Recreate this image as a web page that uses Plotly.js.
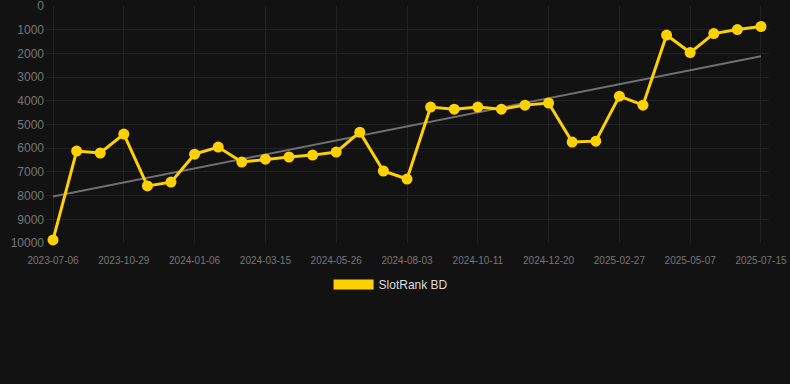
<!DOCTYPE html>
<html>
<head>
<meta charset="utf-8">
<script src="https://cdn.plot.ly/plotly-3.0.1.min.js"></script>
<style>html,body{margin:0;padding:0;background:#121212;}#chart{width:790px;height:384px;}</style>
</head>
<body>
<div id="chart"></div>
<script>
const dates = [
  "2023-07-06","2023-08-14","2023-09-21","2023-10-29","2023-11-21","2023-12-14",
  "2024-01-06","2024-01-29","2024-02-21","2024-03-15","2024-04-08","2024-05-02",
  "2024-05-26","2024-06-18","2024-07-11","2024-08-03","2024-08-26","2024-09-18",
  "2024-10-11","2024-11-03","2024-11-27","2024-12-20","2025-01-12","2025-02-04",
  "2025-02-27","2025-03-22","2025-04-14","2025-05-07","2025-05-30","2025-06-22",
  "2025-07-15"
];
const ranks = [
  9870, 6120, 6200, 5400, 7590, 7430,
  6250, 5950, 6580, 6460, 6370, 6290,
  6160, 5320, 6960, 7300, 4260, 4350,
  4260, 4350, 4180, 4090, 5740, 5700,
  3800, 4180, 1220, 1960, 1160, 990,
  860
];
const tickLabels = ["2023-07-06","2023-10-29","2024-01-06","2024-03-15","2024-05-26","2024-08-03","2024-10-11","2024-12-20","2025-02-27","2025-05-07","2025-07-15"];
const yTicks = [0,1000,2000,3000,4000,5000,6000,7000,8000,9000,10000];
const yTickText = ["0","1000","2000","3000","4000","5000","6000","7000","8000","9000","10000"];
const seriesName = "SlotRank BD";

// linear regression trend
const n = ranks.length;
const idx = ranks.map((_, i) => i);
const mx = idx.reduce((a, b) => a + b, 0) / n;
const my = ranks.reduce((a, b) => a + b, 0) / n;
let sxy = 0, sxx = 0;
for (let i = 0; i < n; i++) { sxy += (i - mx) * (ranks[i] - my); sxx += (i - mx) * (i - mx); }
const slope = sxy / sxx;
const icpt = my - slope * mx;
const trend = idx.map(i => icpt + slope * i);

const yellow = "#FFD100";
const traces = [
  {
    x: dates, y: trend, type: "scatter", mode: "lines",
    line: {color: "#707070", width: 2}, showlegend: false, hoverinfo: "skip"
  },
  {
    x: dates, y: ranks, type: "scatter", mode: "lines+markers", name: seriesName,
    line: {color: yellow, width: 3}, marker: {color: yellow, size: 11},
    showlegend: false, cliponaxis: false
  },
  {
    x: [null], y: [null], type: "scatter", mode: "lines", name: seriesName,
    line: {color: yellow, width: 11}, showlegend: true
  }
];
const layout = {
  width: 790, height: 384,
  paper_bgcolor: "#121212", plot_bgcolor: "#121212",
  margin: {l: 45, r: 21, t: 6, b: 141, autoexpand: false},
  font: {family: "Liberation Sans, Arial, sans-serif", color: "#777"},
  xaxis: {
    type: "category", range: [-0.34, 30.34],
    tickmode: "array", tickvals: tickLabels, ticktext: tickLabels,
    tickfont: {size: 10, color: "#777"}, ticklabelstandoff: 10,
    gridcolor: "#222", gridwidth: 1, showline: false, zeroline: false,
    ticks: "", ticklen: 0, automargin: false
  },
  yaxis: {
    range: [10000, -5], tickmode: "array", tickvals: yTicks, ticktext: yTickText,
    tickfont: {size: 12, color: "#777"}, ticklabeloverflow: "allow",
    gridcolor: "#222", gridwidth: 1, zeroline: false, showline: false,
    ticks: "", ticklen: 0, automargin: false
  },
  showlegend: true,
  legend: {
    orientation: "h", x: 0.478, xanchor: "center", y: -0.114, yanchor: "top",
    itemwidth: 40,
    font: {size: 12, color: "#ddd"}, bgcolor: "rgba(0,0,0,0)"
  }
};
Plotly.newPlot("chart", traces, layout, {displayModeBar: false, staticPlot: true});
</script>
</body>
</html>
